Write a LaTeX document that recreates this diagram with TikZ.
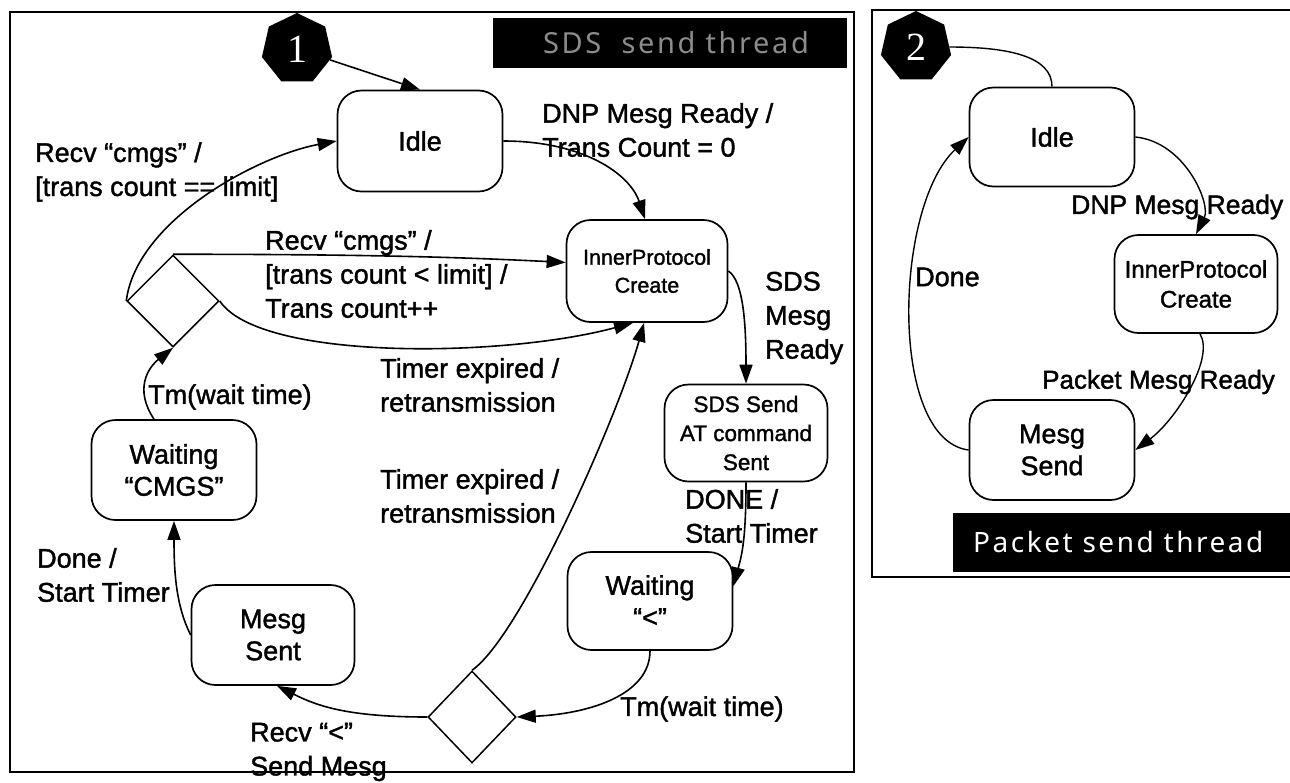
\documentclass[tikz,border=0pt]{standalone}
\usepackage{fontspec}
\setmainfont{Liberation Sans}[FakeBold=1.4]
\newfontfamily\numfont{Liberation Serif}
\newfontfamily\bannerfont{Noto Sans}[LetterSpace=9]
\usetikzlibrary{arrows.meta,shapes.geometric}

\begin{document}
\begin{tikzpicture}[x=1pt,y=-1pt,
  state/.style={draw,line width=1.7pt,rounded corners=24pt,align=center,
    inner sep=0pt,font=\fontsize{27}{32}\selectfont},
  smallstate/.style={state,font=\fontsize{21.5}{28}\selectfont},
  choice/.style={draw,diamond,line width=1.5pt,inner sep=0pt,
    minimum width=92pt,minimum height=92pt},
  hept/.style={regular polygon,regular polygon sides=7,fill=black,
    inner sep=0pt,minimum size=72pt,text=white,
    font=\numfont\fontsize{40}{40}\selectfont},
  lab/.style={align=left,anchor=west,inner sep=0pt,
    font=\fontsize{27}{34}\selectfont},
  arr/.style={line width=1.6pt,-{Triangle[length=19pt,width=13pt]}},
  link/.style={line width=1.4pt},
  frame/.style={line width=2pt},
  banner/.style={fill=black,inner sep=0pt}]

\useasboundingbox (0,0) rectangle (1290,782);
\clip (0,0) rectangle (1290,782);
\fill[white] (0,0) rectangle (1290,782);

% ---------- panel 1 : SDS send thread ----------
\draw[frame] (10,12) rectangle (854,772);
\node[banner,minimum width=354pt,minimum height=50pt] (ban1) at (670,43) {};
\node[font=\bannerfont\fontsize{29}{29}\selectfont,text=black!45] (ban1t) at (676,43) {SDS\ \ send thread};

\node[hept] (h1) at (297,49) {1};

\node[state,minimum width=165pt,minimum height=101pt] (idleA) at (420,141) {Idle};
\node[smallstate,minimum width=161pt,minimum height=102pt] (innerA) at (647,271) {InnerProtocol\\Create};
\node[state,font=\fontsize{22.5}{29}\selectfont,minimum width=163pt,minimum height=97pt] (sdsA) at (746,433) {SDS Send\\AT command\\Sent};
\node[state,minimum width=165pt,minimum height=98pt] (waitLt) at (650,601) {Waiting\\“<”};
\node[state,minimum width=163pt,minimum height=100pt] (mesgSent) at (273,635) {Mesg\\Sent};
\node[state,minimum width=165pt,minimum height=100pt] (waitC) at (174,470) {Waiting\\“CMGS”};
\node[choice] (diamA) at (173,301) {};
\node[choice,minimum width=88pt] (diamB) at (472,717) {};

% transitions
\draw[arr] (h1) -- (idleA.north);
\draw[arr] (idleA.east) .. controls +(80,0) and +(-15,-45) .. ([xshift=-2pt]innerA.north);
\draw[arr] (diamA.west) .. controls +(10,-80) and +(-80,15) .. (idleA.west);
\draw[arr] (diamA.north) .. controls +(200,0) and +(-100,-5) .. (innerA.174);
\draw[arr] (diamA.east) .. controls +(40,60) and +(-130,35) .. ([xshift=-14pt]innerA.south);
\draw[arr] ([xshift=-20pt]waitC.north) .. controls +(-20,-30) and +(-25,20) .. (diamA.south);
\draw[arr] (mesgSent.west) .. controls +(-15,-30) and +(0,50) .. (waitC.south);
\draw[arr] (diamB.west) .. controls +(-80,0) and +(40,20) .. ([xshift=4pt]mesgSent.south);
\draw[arr] (diamB.north) .. controls +(50,-35) and +(-25,90) .. ([xshift=-3pt]innerA.south);
\draw[arr] (waitLt.south) .. controls +(0,45) and +(70,-3) .. (diamB.east);
\draw[arr] (sdsA.south) .. controls +(0,60) and +(8,-30) .. (waitLt.10);
\draw[arr] (innerA.east) .. controls +(15,10) and +(0,-60) .. (sdsA.north);

% transition labels
\node[lab] (lDnp) at (542,130) {DNP Mesg Ready /\\Trans Count = 0};
\node[lab] (lEq) at (35,172) {Recv “cmgs” /\\{}[trans count == limit]};
\node[lab] (lLt) at (265,274) {Recv “cmgs” /\\{}[trans count < limit] /\\Trans count++};
\node[lab] (lTe1) at (380,385) {Timer expired /\\retransmission};
\node[lab] (lTe2) at (380,496) {Timer expired /\\retransmission};
\node[lab] (lTm1) at (148,397) {Tm(wait time)};
\node[lab] (lDone) at (37,575) {Done /\\Start Timer};
\node[lab] (lRecv) at (250,752) {Recv “<”\\Send Mesg};
\node[lab] (lTm2) at (620,709) {Tm(wait time)};
\node[lab] (lDONE) at (685,516) {DONE /\\Start Timer};
\node[lab] (lSds) at (765,318) {SDS\\Mesg\\Ready};

% ---------- panel 2 : packet send thread ----------
\draw[frame] (1300,10) -- (872,10) -- (872,577) -- (1300,577);
\node[banner,minimum width=342pt,minimum height=59pt] (ban2) at (1124,542) {};
\node[font=\bannerfont\fontsize{28}{28}\selectfont,text=white,anchor=west,inner sep=0pt] (ban2t) at (973,542) {Packet send thread};

\node[hept] (h2) at (916,47) {2};

\node[state,minimum width=165pt,minimum height=99pt] (idleB) at (1052,137) {Idle};
\node[state,font=\fontsize{24}{30}\selectfont,minimum width=163pt,minimum height=98pt] (innerB) at (1196,284) {InnerProtocol\\Create};
\node[state,minimum width=165pt,minimum height=100pt] (mesgB) at (1052,450) {Mesg\\Send};

\draw[link] (h2.east) .. controls +(60,0) and +(0,-30) .. (idleB.north);
\draw[arr,line width=1.4pt] (idleB.east) .. controls +(50,5) and +(15,-30) .. (innerB.north);
\draw[arr,line width=1.4pt] ([xshift=4pt]innerB.south) .. controls +(15,25) and +(40,-30) .. (mesgB.east);
\draw[arr,line width=1.4pt] (mesgB.west) .. controls +(-80,-10) and +(-75,70) .. (idleB.west);

\node[lab,font=\fontsize{26.5}{34}\selectfont] (lDnp2) at (1071,207) {DNP Mesg Ready};
\node[lab] (lDone2) at (915,277) {Done};
\node[lab,font=\fontsize{26}{34}\selectfont] (lPkt) at (1042,382) {Packet Mesg Ready};

\end{tikzpicture}
\end{document}
